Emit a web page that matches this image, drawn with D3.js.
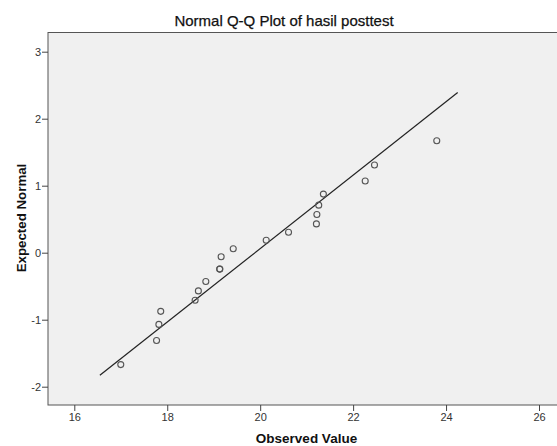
<!DOCTYPE html>
<html>
<head>
<meta charset="utf-8">
<script src="https://cdn.jsdelivr.net/npm/d3@7"></script>
<style>
  html, body { margin: 0; padding: 0; background: #ffffff; }
  svg { display: block; font-family: Arial, "Liberation Sans", sans-serif; }
</style>
</head>
<body>
<svg id="chart" width="557" height="446"></svg>
<script>
// ---- data ----
const title = "Normal Q-Q Plot of hasil posttest";
const xLabel = "Observed Value";
const yLabel = "Expected Normal";
const observed = [17.00, 17.77, 17.82, 17.86, 18.60, 18.67, 18.83, 19.13, 19.13, 19.16,
                  19.42, 20.13, 20.61, 21.21, 21.22, 21.26, 21.36, 22.26, 22.46, 23.80];
const expected = [-1.67, -1.31, -1.07, -0.875, -0.71, -0.57, -0.43, -0.245, -0.245, -0.06,
                  0.06, 0.185, 0.305, 0.43, 0.57, 0.71, 0.875, 1.07, 1.31, 1.67];
const lineX = [16.55, 24.25];
const lineY = [-1.83, 2.39];
const xTicks = [16, 18, 20, 22, 24, 26];
const yTicks = [-2, -1, 0, 1, 2, 3];

// ---- layout ----
const svg = d3.select("#chart");
const frame = { left: 48, top: 32.5, right: 600, bottom: 405 };

const x = d3.scaleLinear().domain([16, 26]).range([74.3, 539]);
const y = d3.scaleLinear().domain([-2, 3]).range([386.7, 51.7]);

// plot background / frame
svg.append("rect")
  .attr("x", frame.left).attr("y", frame.top)
  .attr("width", frame.right - frame.left).attr("height", frame.bottom - frame.top)
  .attr("fill", "#f0f0f0").attr("stroke", "#555").attr("stroke-width", 1);

// axes
const fmt = d => String(d);
const xAxis = svg.append("g")
  .attr("transform", `translate(0,${frame.bottom})`)
  .call(d3.axisBottom(x).tickValues(xTicks).tickSize(6).tickPadding(2).tickFormat(fmt));
const yAxis = svg.append("g")
  .attr("transform", `translate(${frame.left},0)`)
  .call(d3.axisLeft(y).tickValues(yTicks).tickSize(6).tickPadding(1).tickFormat(fmt));
[xAxis, yAxis].forEach(g => {
  g.select(".domain").remove();
  g.selectAll(".tick line").attr("stroke", "#444");
  g.selectAll(".tick text").attr("fill", "#333")
    .style("font-family", "Arial, 'Liberation Sans', sans-serif").style("font-size", "11px");
});

// reference line
svg.append("line")
  .attr("x1", x(lineX[0])).attr("y1", y(lineY[0]))
  .attr("x2", x(lineX[1])).attr("y2", y(lineY[1]))
  .attr("stroke", "#222").attr("stroke-width", 1.2);

// points
svg.append("g").selectAll("circle")
  .data(observed.map((v, i) => ({ o: v, e: expected[i] })))
  .join("circle")
  .attr("cx", d => x(d.o)).attr("cy", d => y(d.e))
  .attr("r", 3)
  .attr("fill", "none").attr("stroke", "#555").attr("stroke-width", 1.1);

// title
svg.append("text")
  .attr("x", 284).attr("y", 26)
  .attr("text-anchor", "middle")
  .style("font-size", "15px").attr("fill", "#111")
  .attr("stroke", "#111").attr("stroke-width", 0.25)
  .text(title);

// axis titles
svg.append("text")
  .attr("x", 306.5).attr("y", 443)
  .attr("text-anchor", "middle")
  .style("font-size", "13.5px").style("font-weight", "bold").attr("fill", "#111")
  .text(xLabel);
svg.append("text")
  .attr("transform", "translate(25.5,218) rotate(-90)")
  .attr("text-anchor", "middle")
  .style("font-size", "13.3px").style("font-weight", "bold").attr("fill", "#111")
  .text(yLabel);
</script>
</body>
</html>
